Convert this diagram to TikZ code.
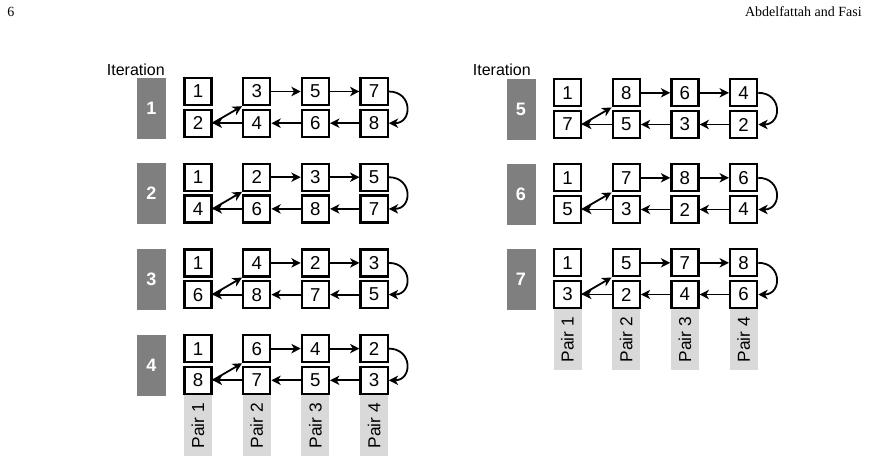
\documentclass[tikz,border=0pt]{standalone}
\usepackage{fontspec}
\setmainfont{Liberation Serif}
\newfontfamily\arialf{Liberation Sans}
\usetikzlibrary{arrows.meta}
\definecolor{itgray}{HTML}{7F7F7F}
\definecolor{pairgray}{HTML}{D9D9D9}
\tikzset{
  numbox/.style={draw=black, line width=1.7pt, fill=white, minimum width=20.3pt, minimum height=20.3pt, inner sep=0pt, font=\arialf\fontsize{14}{14}\selectfont},
  itbox/.style={fill=itgray, minimum width=21.75pt, minimum height=45.75pt, inner sep=0pt, text=white, font=\arialf\bfseries\fontsize{13.5}{13.5}\selectfont},
  pairbox/.style={fill=pairgray, rotate=90, minimum width=45.75pt, minimum height=21pt, inner sep=0pt, font=\arialf\fontsize{13}{13}\selectfont},
  link/.style={line width=1.35pt, -{Stealth[length=7pt,width=7pt,inset=2pt]}},
  itlabel/.style={font=\arialf\fontsize{12}{12}\selectfont, inner sep=0pt},
  header/.style={font=\fontsize{10.5}{10.5}\selectfont, inner sep=0pt}
}
% #1 name prefix, #2 x of column 1, #3 top y, #4 iteration number, #5 top row, #6 bottom row
\newcommand{\drawiter}[6]{%
  \node[itbox] (#1g) at ({#2-46.5},{#3+31}) {#4};
  \foreach \v [count=\c] in {#5} {\node[numbox] (#1t\c) at ({#2+58.7*(\c-1)},{#3+14.5}) {\v};}
  \foreach \v [count=\c] in {#6} {\node[numbox] (#1b\c) at ({#2+58.7*(\c-1)},{#3+46.2}) {\v};}
  \draw[link] (#1b1.east) -- (#1t2.south west);
  \draw[link] (#1t2.east) -- (#1t3.west);
  \draw[link] (#1t3.east) -- (#1t4.west);
  \draw[link] (#1t4.east) .. controls +(24,0) and +(24,0) .. (#1b4.east);
  \draw[link] (#1b4.west) -- (#1b3.east);
  \draw[link] (#1b3.west) -- (#1b2.east);
  \draw[link] (#1b2.west) -- (#1b1.east);
}
\newcommand{\drawpairs}[3]{% #1 prefix, #2 x col1, #3 top y of last iteration
  \foreach \c in {1,2,3,4} {\node[pairbox] (#1p\c) at ({#2+58.7*(\c-1)},{#3+91.5}) {Pair \c};}
}
\begin{document}
\begin{tikzpicture}[x=0.75pt,y=-0.75pt]
\useasboundingbox (0,0) rectangle (869,462);
% header
\node[header, anchor=base west] (pgnum) at (7,16) {6};
\node[header, anchor=base east] (authors) at (862,16) {Abdelfattah and Fasi};
% left panel
\node[itlabel, anchor=base east] (itL) at (165,75) {Iteration};
\drawiter{A}{198}{77}{1}{1,3,5,7}{2,4,6,8}
\drawiter{B}{198}{162.7}{2}{1,2,3,5}{4,6,8,7}
\drawiter{C}{198}{248.4}{3}{1,4,2,3}{6,8,7,5}
\drawiter{D}{198}{334.1}{4}{1,6,4,2}{8,7,5,3}
\drawpairs{D}{198}{334.1}
% right panel
\node[itlabel, anchor=base east] (itR) at (531,75) {Iteration};
\drawiter{E}{567.5}{78.3}{5}{1,8,6,4}{7,5,3,2}
\drawiter{F}{567.5}{163.3}{6}{1,7,8,6}{5,3,2,4}
\drawiter{G}{567.5}{248.3}{7}{1,5,7,8}{3,2,4,6}
\drawpairs{G}{567.5}{248.3}
\end{tikzpicture}
\end{document}
